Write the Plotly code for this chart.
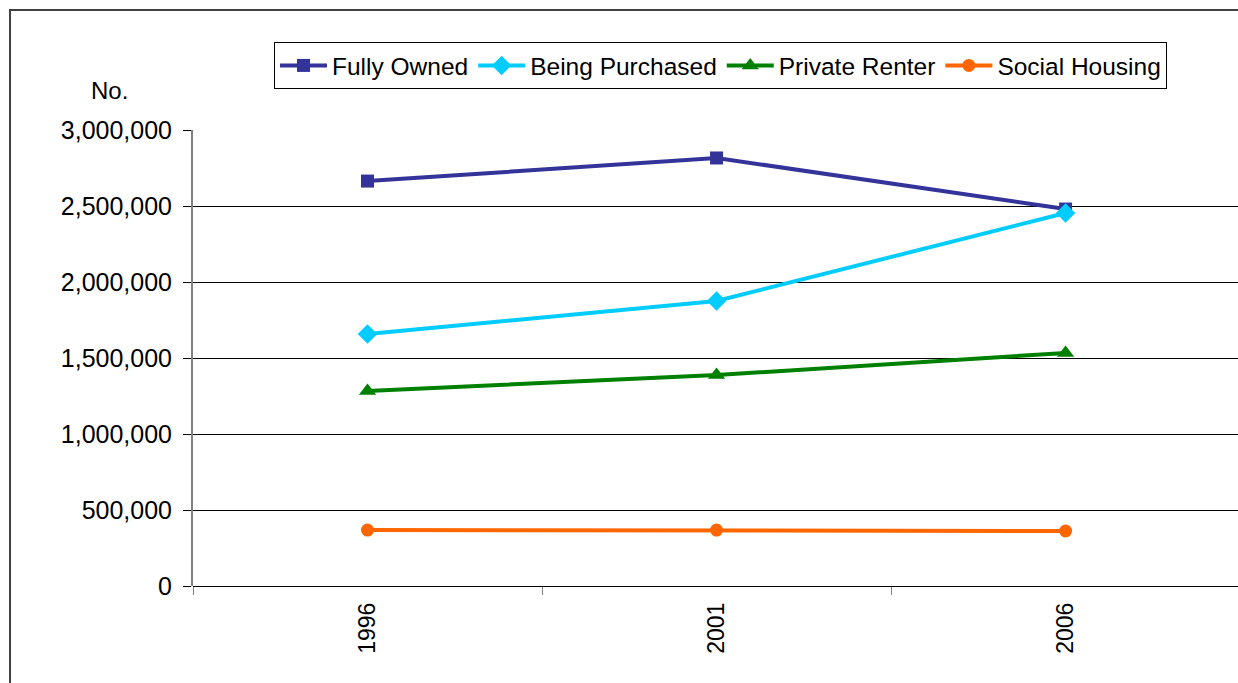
import plotly.graph_objects as go

years = ["1996", "2001", "2006"]
fully_owned = [2664000, 2816000, 2480000]
being_purchased = [1658000, 1875000, 2454000]
private_renter = [1283000, 1388000, 1533000]
social_housing = [368000, 368000, 362000]
y_ticks = [0, 500000, 1000000, 1500000, 2000000, 2500000, 3000000]

series = [
    ("Fully Owned", fully_owned, "#333399", "square", 13),
    ("Being Purchased", being_purchased, "#00CCFF", "diamond", 15),
    ("Private Renter", private_renter, "#008000", "triangle-up", 15),
    ("Social Housing", social_housing, "#FF6600", "circle", 13),
]

fig = go.Figure()
for name, vals, col, sym, sz in series:
    fig.add_trace(go.Scatter(
        x=years, y=vals, name=name, mode="lines+markers",
        line=dict(color=col, width=4),
        marker=dict(symbol=sym, size=sz, color=col),
    ))

font = "Liberation Sans, Arial, sans-serif"
fig.update_layout(
    width=1238, height=683,
    margin=dict(l=193, r=0, t=130, b=97),
    paper_bgcolor="white", plot_bgcolor="white",
    font=dict(family=font, size=24, color="black"),
    showlegend=True,
    legend=dict(
        orientation="h", x=0.0775, y=1.193, xanchor="left", yanchor="top",
        bordercolor="#000000", borderwidth=1, bgcolor="white",
        font=dict(size=24.5), itemwidth=47, tracegroupgap=0,
    ),
    xaxis=dict(
        type="category", range=[-0.5, 2.494], tickson="boundaries",
        ticks="outside", ticklen=8, tickcolor="#808080", tickangle=-90,
        showgrid=False, showline=False, zeroline=False,
        tickfont=dict(size=23), ticklabelstandoff=11,
    ),
    yaxis=dict(
        range=[0, 3000000], tickvals=y_ticks, tickformat=",d",
        ticks="outside", ticklen=8, tickcolor="#000000",
        showgrid=True, gridcolor="#000000", gridwidth=1,
        zeroline=True, zerolinecolor="#000000", zerolinewidth=1,
        showline=True, linecolor="#808080", linewidth=2,
        tickfont=dict(size=25), ticklabelstandoff=6,
    ),
    annotations=[dict(
        text="No.", x=-0.06, y=1.086, xref="paper", yref="paper",
        xanchor="right", yanchor="middle", showarrow=False, font=dict(size=24),
    )],
    shapes=[dict(
        type="rect", xref="paper", yref="paper",
        x0=-0.1751, x1=1.1, y0=-0.4, y1=1.263,
        line=dict(color="#404040", width=2), fillcolor="rgba(0,0,0,0)",
        layer="below",
    )],
)

fig.write_html(
    "out.html",
    config={"displayModeBar": False},
    post_script="document.body.style.margin='0';document.body.style.overflow='hidden';",
)
